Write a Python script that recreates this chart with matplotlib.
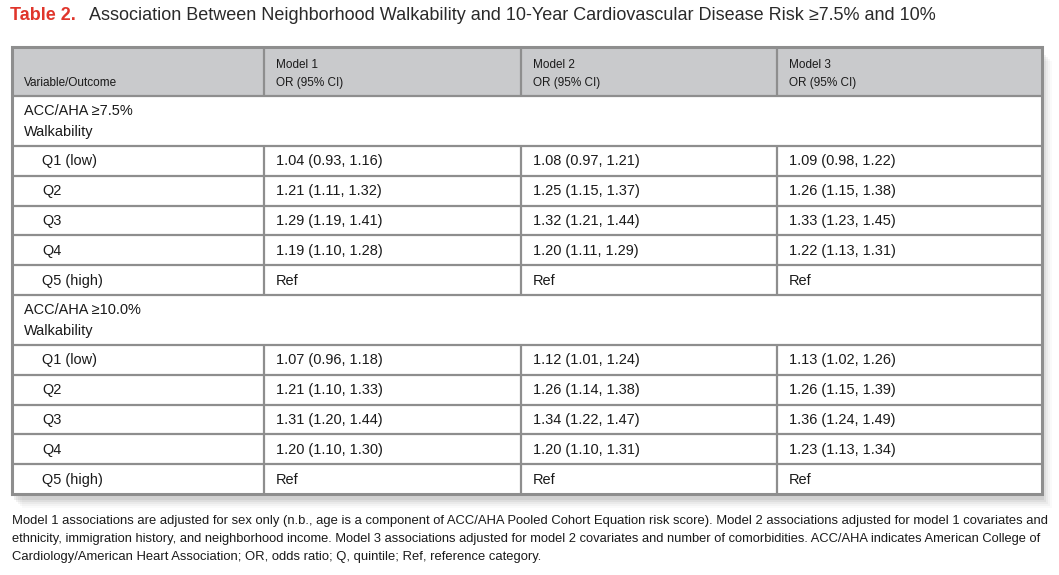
import matplotlib.pyplot as plt
from matplotlib.patches import Rectangle

plt.rcParams['font.family'] = ['Liberation Sans', 'DejaVu Sans']

title_num = 'Table 2.'
title_text = ('Association Between Neighborhood Walkability and 10-Year '
              'Cardiovascular Disease Risk \u22657.5% and 10%')

header_first = 'Variable/Outcome'
model_names = ['Model 1', 'Model 2', 'Model 3']
model_sub = 'OR (95% CI)'

group_labels = ['ACC/AHA \u22657.5%', 'ACC/AHA \u226510.0%']
group_sub = 'Walkability'
quintiles = ['Q1 (low)', 'Q2', 'Q3', 'Q4', 'Q5 (high)']

# ACC/AHA >= 7.5%
m1_75 = ['1.04 (0.93, 1.16)', '1.21 (1.11, 1.32)', '1.29 (1.19, 1.41)', '1.19 (1.10, 1.28)', 'Ref']
m2_75 = ['1.08 (0.97, 1.21)', '1.25 (1.15, 1.37)', '1.32 (1.21, 1.44)', '1.20 (1.11, 1.29)', 'Ref']
m3_75 = ['1.09 (0.98, 1.22)', '1.26 (1.15, 1.38)', '1.33 (1.23, 1.45)', '1.22 (1.13, 1.31)', 'Ref']
# ACC/AHA >= 10.0%
m1_10 = ['1.07 (0.96, 1.18)', '1.21 (1.10, 1.33)', '1.31 (1.20, 1.44)', '1.20 (1.10, 1.30)', 'Ref']
m2_10 = ['1.12 (1.01, 1.24)', '1.26 (1.14, 1.38)', '1.34 (1.22, 1.47)', '1.20 (1.10, 1.31)', 'Ref']
m3_10 = ['1.13 (1.02, 1.26)', '1.26 (1.15, 1.39)', '1.36 (1.24, 1.49)', '1.23 (1.13, 1.34)', 'Ref']

footnote = [
    'Model 1 associations are adjusted for sex only (n.b., age is a component of ACC/AHA Pooled Cohort '
    'Equation risk score). Model 2 associations adjusted for model 1 covariates and',
    'ethnicity, immigration history, and neighborhood income. Model 3 associations adjusted for model 2 '
    'covariates and number of comorbidities. ACC/AHA indicates American College of',
    'Cardiology/American Heart Association; OR, odds ratio; Q, quintile; Ref, reference category.',
]

W, H = 1059, 575
fig = plt.figure(figsize=(W / 100, H / 100), dpi=100)
ax = fig.add_axes([0, 0, 1, 1])
ax.set_xlim(0, W)
ax.set_ylim(H, 0)
ax.axis('off')
renderer = fig.canvas.get_renderer()


def fit_size(s, width, size=10, **kw):
    t = ax.text(0, 0, s, fontsize=size, **kw)
    w = t.get_window_extent(renderer).width
    t.remove()
    return size * width / w


line_c = '#8e8e8e'
head_c = '#c9cacc'
txt_c = '#1a1a1a'
body_font = ['Liberation Sans Narrow', 'Liberation Sans', 'DejaVu Sans']
body_size = min(fit_size(m1_75[0], 106, family=body_font), 12)

# table geometry (pixels)
left, right = 12, 1042
top, head_bot = 47, 96
col_x = [left, 264, 521, 777, right]
group_h = 50
row_h = 29.8

# shadow
for i, a in enumerate([0.10, 0.08, 0.06, 0.04, 0.03]):
    d = 2 + i * 2
    ax.add_patch(Rectangle((left + d, top + d + 4), right - left, 494 - top,
                           facecolor='#606060', edgecolor='none', alpha=a, zorder=0))
ax.add_patch(Rectangle((left, top), right - left, 494 - top,
                       facecolor='white', edgecolor='none', zorder=1))

# header
ax.add_patch(Rectangle((left, top), right - left, head_bot - top,
                       facecolor=head_c, edgecolor='none', zorder=1))
ax.text(col_x[0] + 12, 83, header_first, fontsize=8.5, color=txt_c, va='center', zorder=3)
for i, name in enumerate(model_names):
    ax.text(col_x[i + 1] + 12, 65, name, fontsize=8.5, color=txt_c, va='center', zorder=3)
    ax.text(col_x[i + 1] + 12, 83, model_sub, fontsize=8.5, color=txt_c, va='center', zorder=3)

# body
groups = [(group_labels[0], [m1_75, m2_75, m3_75]),
          (group_labels[1], [m1_10, m2_10, m3_10])]
y = head_bot
hlines = [head_bot]
vsegs = [(top, head_bot)]
for label, models in groups:
    ax.text(col_x[0] + 12, y + 15, label, fontsize=body_size, family=body_font,
            color=txt_c, va='center', zorder=3)
    ax.text(col_x[0] + 12, y + 36, group_sub, fontsize=body_size, family=body_font,
            color=txt_c, va='center', zorder=3)
    y += group_h
    hlines.append(y)
    for r, q in enumerate(quintiles):
        yc = y + row_h / 2 + 0.5
        ax.text(col_x[0] + 30, yc, q, fontsize=body_size, family=body_font,
                color=txt_c, va='center', zorder=3)
        for c, vals in enumerate(models):
            ax.text(col_x[c + 1] + 12, yc, vals[r], fontsize=body_size, family=body_font,
                    color=txt_c, va='center', zorder=3)
        vsegs.append((y, y + row_h))
        y += row_h
        hlines.append(y)
bottom = y

for yy in hlines[:-1]:
    ax.plot([left, right], [yy, yy], color=line_c, lw=1.6, zorder=2,
            solid_capstyle='butt')
for y0, y1 in vsegs:
    for xx in col_x[1:-1]:
        ax.plot([xx, xx], [y0, y1], color=line_c, lw=1.6, zorder=2,
                solid_capstyle='butt')
ax.add_patch(Rectangle((left, top), right - left, bottom - top, facecolor='none',
                       edgecolor=line_c, lw=2.2, zorder=4))

# title
ax.text(10, 16, title_num, fontsize=13, fontweight='bold', color='#e0352b', va='center')
ax.text(89, 16, title_text, fontsize=fit_size(title_text, 849), color='#2a2a2a',
        va='center')

# footnote
fn_size = fit_size(footnote[0], 1036)
ax.text(12, 521, footnote[0], fontsize=fn_size, color=txt_c, va='center')
ax.text(12, 539, footnote[1], fontsize=fit_size(footnote[1], 1036), color=txt_c, va='center')
ax.text(12, 557, footnote[2], fontsize=fn_size, color=txt_c, va='center')

fig.savefig('out.png', dpi=100, facecolor='white')
